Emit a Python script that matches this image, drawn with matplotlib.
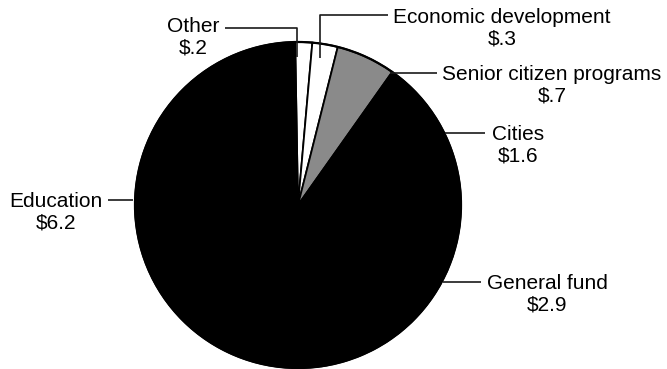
import matplotlib
matplotlib.use("Agg")
import matplotlib.pyplot as plt

# budget allocation (billions of dollars), clockwise from the top
categories = ["Other", "Economic development", "Senior citizen programs",
              "Cities", "General fund", "Education"]
amounts = [0.2, 0.3, 0.7, 1.6, 2.9, 6.2]
value_labels = ["$.2", "$.3", "$.7", "$1.6", "$2.9", "$6.2"]
fills = ["white", "white", "#8a8a8a", "black", "black", "black"]

W, H = 667, 369
plt.rcParams["font.family"] = ["Liberation Sans", "DejaVu Sans"]

fig = plt.figure(figsize=(W / 100, H / 100), dpi=100)
ax = fig.add_axes([0, 0, 1, 1])

def py(y):
    # pixel row (from top) -> axes y
    return H - y

cx, cy, r = 298, py(205), 163
wedges, _ = ax.pie(amounts, colors=fills, startangle=91, counterclock=False,
                   center=(cx, cy), radius=r, frame=True,
                   wedgeprops=dict(edgecolor="black", linewidth=1.3))
ax.set_xlim(0, W)
ax.set_ylim(0, H)
ax.set_aspect("equal")
ax.axis("off")
ax.add_patch(plt.Circle((cx, cy), r, fill=False, edgecolor="black", linewidth=1.6))

# label anchor (center of two-line block) and leader path, in pixels
label_pos = {
    "Other": (193, 37),
    "Economic development": (502, 28),
    "Senior citizen programs": (552, 85),
    "Cities": (518, 145),
    "General fund": (547, 294),
    "Education": (56, 212),
}
leaders = {
    "Other": [(225, 28), (297, 28), (297, 57)],
    "Economic development": [(388, 15), (320, 15), (320, 58)],
    "Senior citizen programs": [(390, 73), (437, 73)],
    "Cities": [(445, 133), (485, 133)],
    "General fund": [(443, 282), (481, 282)],
    "Education": [(108, 200), (133, 200)],
}

for name, val in zip(categories, value_labels):
    x, y = label_pos[name]
    ax.text(x, py(y), name + "\n" + val.replace("$", r"\$"), ha="center",
            va="center", fontsize=15, linespacing=1.15, color="black")
    pts = leaders[name]
    ax.plot([p[0] for p in pts], [py(p[1]) for p in pts],
            color="#1a1a1a", linewidth=1.2, solid_capstyle="butt")

fig.savefig("out.png", dpi=100)
